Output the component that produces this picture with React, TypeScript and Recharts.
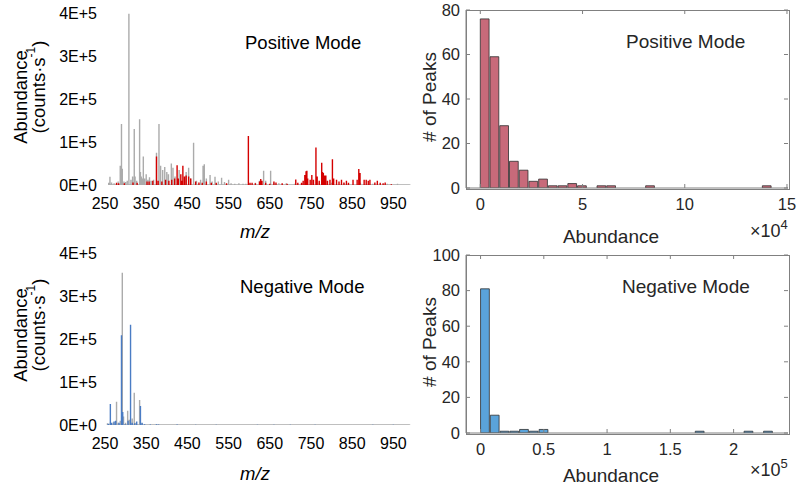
import { ComposedChart, Line, Bar, XAxis, YAxis, ReferenceLine } from "recharts";

// ---- mass spectra (m/z, abundance in counts/s) ----
const posGrey: [number, number][] = [
    [259, 0.05e5], [262, 0.19e5], [266, 0.06e5], [272, 0.04e5], [282, 0.08e5], [287, 0.45e5],
    [290, 1.42e5], [292, 0.38e5], [296, 0.08e5], [300, 0.07e5], [304, 0.1e5], [308, 3.98e5],
    [313, 0.12e5], [317, 0.2e5], [321, 1.3e5], [323, 0.2e5], [327, 0.1e5], [334, 1.53e5],
    [336, 0.3e5], [338, 0.2e5], [341, 0.15e5], [343, 0.66e5], [346, 0.15e5], [350, 0.25e5],
    [354, 0.12e5], [358, 0.18e5], [362, 0.1e5], [368, 0.12e5], [375, 0.75e5], [381, 1.42e5],
    [385, 0.45e5], [390, 0.35e5], [395, 0.42e5], [400, 0.3e5], [404, 0.25e5], [411, 0.5e5],
    [415, 0.4e5], [420, 0.2e5], [430, 0.35e5], [447, 0.3e5], [453, 0.4e5], [458, 0.15e5],
    [465, 0.98e5], [472, 0.1e5], [482, 0.12e5], [488, 0.45e5], [491, 0.48e5], [496, 0.15e5],
    [505, 0.23e5], [510, 0.08e5], [517, 0.19e5], [525, 0.08e5], [533, 0.17e5], [540, 0.07e5],
    [550, 0.12e5], [556, 0.04e5], [565, 0.03e5], [575, 0.04e5], [585, 0.03e5], [592, 0.03e5],
    [615, 0.05e5], [625, 0.1e5], [635, 0.33e5], [640, 0.1e5], [652, 0.33e5], [660, 0.05e5],
    [672, 0.04e5], [690, 0.04e5], [710, 0.03e5], [740, 0.05e5], [770, 0.06e5], [800, 0.05e5],
    [830, 0.04e5], [870, 0.05e5], [900, 0.03e5], [935, 0.03e5], [960, 0.03e5], [975, 0.02e5],
    [990, 0.01e5],
];

const posRed: [number, number][] = [
    [278, 0.05e5], [283, 0.04e5], [297, 0.04e5], [318, 0.06e5], [328, 0.05e5], [352, 0.08e5],
    [357, 0.08e5], [366, 0.1e5], [375, 0.66e5], [379, 0.1e5], [388, 0.08e5], [397, 0.12e5],
    [405, 0.1e5], [412, 0.12e5], [419, 0.15e5], [425, 0.46e5], [428, 0.15e5], [434, 0.25e5],
    [436, 0.1e5], [439, 0.45e5], [443, 0.2e5], [447, 0.22e5], [453, 0.2e5], [458, 0.15e5],
    [470, 0.08e5], [478, 0.06e5], [486, 0.05e5], [496, 0.08e5], [508, 0.05e5], [520, 0.05e5],
    [545, 0.04e5], [598, 1.14e5], [602, 0.05e5], [607, 0.05e5], [615, 0.04e5], [625, 0.08e5],
    [628, 0.14e5], [631, 0.1e5], [640, 0.05e5], [650, 0.03e5], [660, 0.08e5], [665, 0.06e5],
    [680, 0.04e5], [692, 0.03e5], [713, 0.13e5], [718, 0.05e5], [727, 0.05e5], [731, 0.1e5],
    [735, 0.23e5], [738, 0.32e5], [740, 0.33e5], [742, 0.15e5], [748, 0.12e5], [752, 0.23e5],
    [756, 0.12e5], [762, 0.87e5], [765, 0.2e5], [770, 0.1e5], [776, 0.52e5], [778, 0.3e5],
    [780, 0.28e5], [783, 0.22e5], [786, 0.22e5], [790, 0.1e5], [796, 0.12e5], [802, 0.6e5],
    [805, 0.15e5], [812, 0.12e5], [818, 0.08e5], [824, 0.12e5], [830, 0.06e5], [836, 0.1e5],
    [841, 0.05e5], [852, 0.12e5], [862, 0.12e5], [866, 0.37e5], [869, 0.28e5], [879, 0.12e5],
    [884, 0.12e5], [889, 0.1e5], [893, 0.12e5], [905, 0.06e5], [911, 0.1e5], [918, 0.05e5],
    [925, 0.04e5], [930, 0.06e5], [945, 0.02e5],
];

const negGrey: [number, number][] = [
    [256, 0.04e5], [263, 0.05e5], [270, 0.06e5], [275, 0.08e5], [278, 0.54e5], [282, 0.05e5],
    [287, 0.1e5], [292, 3.54e5], [295, 0.2e5], [300, 0.05e5], [305, 0.33e5], [309, 0.12e5],
    [316, 0.15e5], [321, 0.75e5], [325, 0.05e5], [334, 0.58e5], [340, 0.04e5], [350, 0.02e5],
    [375, 0.02e5], [400, 0.01e5], [450, 0.01e5], [550, 0.01e5], [650, 0.01e5], [750, 0.01e5],
    [850, 0.01e5], [950, 0.01e5], [990, 0.005e5],
];

const negBlue: [number, number][] = [
    [258, 0.03e5], [263, 0.49e5], [266, 0.05e5], [272, 0.08e5], [276, 0.1e5], [284, 0.05e5],
    [290, 2.09e5], [293, 0.3e5], [299, 0.02e5], [306, 0.1e5], [312, 2.33e5], [316, 0.05e5],
    [322, 0.04e5], [327, 0.08e5], [336, 0.44e5], [340, 0.05e5], [346, 0.02e5], [360, 0.01e5],
    [375, 0.015e5], [380, 0.01e5], [425, 0.01e5], [470, 0.008e5], [520, 0.006e5], [620, 0.008e5],
    [660, 0.006e5], [700, 0.006e5], [760, 0.008e5], [900, 0.005e5], [950, 0.005e5],
];

const mzTicks = [250, 350, 450, 550, 650, 750, 850, 950];
const abundanceTicks = [0, 1e5, 2e5, 3e5, 4e5];

// ---- histograms of peak abundance ----
const posBinWidth = 4757;
const posCounts = [76, 59, 28, 12, 8, 3, 4, 1, 1, 2, 1, 0, 1, 1, 0, 0, 0, 1, 0, 0, 0, 0, 0, 0, 0, 0, 0, 0, 0, 1];
const posHistTicksX = [0, 5e4, 10e4, 15e4];
const posHistTicksY = [0, 20, 40, 60, 80];

const negBinWidth = 7714;
const negCounts = [81, 10, 1, 1, 2, 1, 2, 0, 0, 0, 0, 0, 0, 0, 0, 0, 0, 0, 0, 0, 0, 0, 1, 0, 0, 0, 0, 1, 0, 1];
const negHistTicksX = [0, 0.5e5, 1e5, 1.5e5, 2e5];
const negHistTicksY = [0, 20, 40, 60, 80, 100];

const FONT = "'Liberation Sans', Arial, sans-serif";
const BOX = "#808080";
const INK = "#262626";

function toSticks(peaks: [number, number][], continuous: boolean) {
    const sorted = [...peaks].sort((a, b) => a[0] - b[0]);
    return sorted.flatMap(([mz, v]) => {
        const pts: { mz: number; y: number | null }[] = [
            { mz, y: 0 },
            { mz, y: v },
            { mz, y: 0 },
        ];
        if (!continuous) pts.push({ mz, y: null });
        return pts;
    });
}

const fmtE = (v: number) => (v === 0 ? "0E+0" : `${Math.round(v / 1e5)}E+5`);

function Spectrum({ grey, colored, color, top }: { grey: [number, number][]; colored: [number, number][]; color: string; top: number }) {
    const greyData = toSticks(grey, true);
    const colData = toSticks(colored, false);
    const tick = { fill: "#000", fontSize: 16, fontFamily: FONT };
    return (
        <div style={{ position: "absolute", left: 0, top, width: 420, height: 240 }}>
            <ComposedChart width={420} height={240} margin={{ top: 13, right: 6, bottom: 25, left: 0 }}>
                <XAxis
                    type="number"
                    dataKey="mz"
                    domain={[250, 1000]}
                    ticks={mzTicks}
                    allowDataOverflow
                    axisLine={false}
                    tickLine={false}
                    tickMargin={7}
                    height={30}
                    tick={tick}
                />
                <YAxis
                    type="number"
                    domain={[0, 4e5]}
                    ticks={abundanceTicks}
                    tickFormatter={fmtE}
                    allowDataOverflow
                    width={105}
                    axisLine={false}
                    tickLine={false}
                    tick={tick}
                />
                <Line data={greyData} dataKey="y" type="linear" stroke="#ababab" strokeWidth={1.4} dot={false} activeDot={false} isAnimationActive={false} />
                <Line data={colData} dataKey="y" type="linear" stroke={color} strokeWidth={1.4} dot={false} activeDot={false} isAnimationActive={false} connectNulls={false} />
            </ComposedChart>
        </div>
    );
}

interface HistProps {
    counts: number[];
    binWidth: number;
    fill: string;
    xDomain: [number, number];
    xTicks: number[];
    xScale: number;
    yMax: number;
    yTicks: number[];
    top: number;
    marginTop: number;
}

const H_LEFT = 46;
const H_RIGHT = 12;
const H_PLOT_W = 380 - H_LEFT - H_RIGHT;
const H_PLOT_H = 178;
const TICK_LEN = 4;

function Histogram({ counts, binWidth, fill, xDomain, xTicks, xScale, yMax, yTicks, top, marginTop }: HistProps) {
    const data = counts.map((c, i) => ({ x: (i + 0.5) * binWidth, n: c > 0 ? c : null }));
    const xSpan = xDomain[1] - xDomain[0];
    const barSize = (binWidth * H_PLOT_W) / xSpan;
    const bottom = 240 - marginTop - H_PLOT_H - 30;
    const tickStyle = { fill: INK, fontSize: 16.5, fontFamily: FONT };
    // tick length in data units, for the mirrored ticks on the top / right frame
    const dy = (TICK_LEN / H_PLOT_H) * yMax;
    const dx = (TICK_LEN / H_PLOT_W) * xSpan;
    return (
        <div style={{ position: "absolute", left: 420, top, width: 380, height: 240 }}>
            <ComposedChart width={380} height={240} data={data} margin={{ top: marginTop, right: H_RIGHT, bottom, left: 0 }}>
                <XAxis
                    type="number"
                    dataKey="x"
                    domain={xDomain}
                    ticks={xTicks}
                    allowDataOverflow
                    tickFormatter={(v: number) => `${+(v / xScale).toFixed(1)}`}
                    axisLine={{ stroke: BOX }}
                    tickLine={{ stroke: BOX }}
                    tickSize={-TICK_LEN}
                    tickMargin={14}
                    height={30}
                    tick={tickStyle}
                />
                <YAxis
                    type="number"
                    domain={[0, yMax]}
                    ticks={yTicks}
                    allowDataOverflow
                    axisLine={{ stroke: BOX }}
                    tickLine={{ stroke: BOX }}
                    tickSize={-TICK_LEN}
                    tickMargin={10}
                    width={H_LEFT}
                    tick={tickStyle}
                />
                <Bar
                    dataKey="n"
                    fill={fill}
                    stroke="#2f2f2f"
                    strokeWidth={0.8}
                    barSize={barSize}
                    isAnimationActive={false}
                />
                {xTicks.map((v) => (
                    <ReferenceLine
                        key={`t${v}`}
                        segment={[{ x: v, y: yMax }, { x: v, y: yMax - dy }]}
                        stroke={BOX}
                        ifOverflow="visible"
                    />
                ))}
                {yTicks.map((v) => (
                    <ReferenceLine
                        key={`r${v}`}
                        segment={[{ x: xDomain[1], y: v }, { x: xDomain[1] - dx, y: v }]}
                        stroke={BOX}
                        ifOverflow="visible"
                    />
                ))}
            </ComposedChart>
            {/* axes frame (box on) */}
            <div
                style={{
                    position: "absolute",
                    left: H_LEFT - 0.5,
                    top: marginTop - 0.5,
                    width: H_PLOT_W,
                    height: H_PLOT_H,
                    border: `1px solid ${BOX}`,
                    pointerEvents: "none",
                    zIndex: 5,
                }}
            />
        </div>
    );
}

function Labels() {
    const t = { fontFamily: FONT, fontSize: 18.5, fill: "#000" };
    const h = { fontFamily: FONT, fontSize: 19, fill: INK };
    return (
        <svg width={800} height={485} style={{ position: "absolute", left: 0, top: 0, pointerEvents: "none", zIndex: 6 }}>
            {/* spectrum panels */}
            <text x={245} y={42} dominantBaseline="central" {...t}>Positive Mode</text>
            <text x={240} y={286} dominantBaseline="central" {...t}>Negative Mode</text>
            {[0, 238].map((dy) => (
                <g key={dy}>
                    <text transform={`translate(20,${97 + dy}) rotate(-90)`} textAnchor="middle" dominantBaseline="central" {...t}>Abundance</text>
                    <text transform={`translate(38,${87 + dy}) rotate(-90)`} textAnchor="middle" dominantBaseline="central" {...t}>
                        (counts·s<tspan dy={-7} fontSize={12}>-1</tspan><tspan dy={7}>)</tspan>
                    </text>
                </g>
            ))}
            <text x={255} y={231} textAnchor="middle" dominantBaseline="central" fontStyle="italic" {...t}>m/z</text>
            <text x={255} y={473} textAnchor="middle" dominantBaseline="central" fontStyle="italic" {...t}>m/z</text>

            {/* histogram panels */}
            <text x={626} y={41} dominantBaseline="central" {...h}>Positive Mode</text>
            <text x={622} y={286} dominantBaseline="central" {...h}>Negative Mode</text>
            <text transform="translate(429,97) rotate(-90)" textAnchor="middle" dominantBaseline="central" {...h}>
                # of Peaks
            </text>
            <text transform="translate(429,342) rotate(-90)" textAnchor="middle" dominantBaseline="central" {...h}>
                # of Peaks
            </text>
            <text x={611} y={236} textAnchor="middle" dominantBaseline="central" {...h}>Abundance</text>
            <text x={611} y={475} textAnchor="middle" dominantBaseline="central" {...h}>Abundance</text>
            <text x={750} y={231} fontFamily={FONT} fontSize={18} fill={INK} dominantBaseline="central">
                ×10<tspan dy={-7} fontSize={13}>4</tspan>
            </text>
            <text x={750} y={470} fontFamily={FONT} fontSize={18} fill={INK} dominantBaseline="central">
                ×10<tspan dy={-7} fontSize={13}>5</tspan>
            </text>
        </svg>
    );
}

export default function App() {
    return (
        <div style={{ position: "absolute", left: 0, top: 0, width: 800, height: 485, background: "#fff", fontFamily: FONT }}>
            <Spectrum grey={posGrey} colored={posRed} color="#d40000" top={0} />
            <Spectrum grey={negGrey} colored={negBlue} color="#4a7cc4" top={240} />
            <Histogram
                counts={posCounts}
                binWidth={posBinWidth}
                fill="#c86a7a"
                xDomain={[-7000, 150500]}
                xTicks={posHistTicksX}
                xScale={1e4}
                yMax={80}
                yTicks={posHistTicksY}
                top={0}
                marginTop={10}
            />
            <Histogram
                counts={negCounts}
                binWidth={negBinWidth}
                fill="#5aa3da"
                xDomain={[-11500, 243000]}
                xTicks={negHistTicksX}
                xScale={1e5}
                yMax={100}
                yTicks={negHistTicksY}
                top={240}
                marginTop={15}
            />
            <Labels />
        </div>
    );
}
